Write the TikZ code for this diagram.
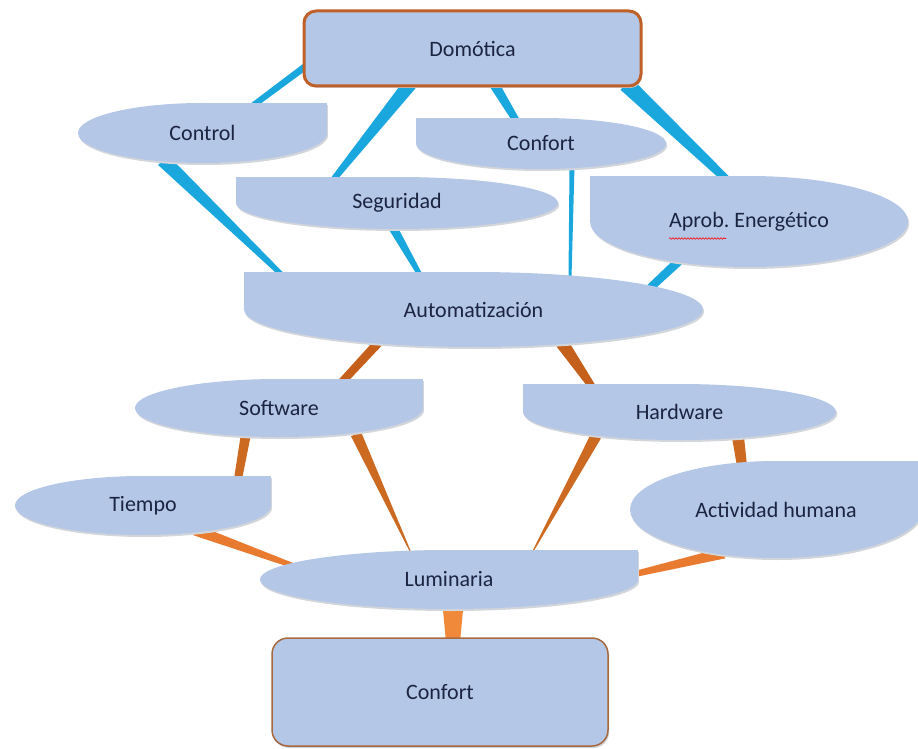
\documentclass[tikz,border=0pt]{standalone}
\usepackage{fontspec}
\setmainfont{Carlito}
\frenchspacing
\usetikzlibrary{calc,shadows,decorations.pathmorphing}

\definecolor{capfill}{HTML}{B4C7E7}
\definecolor{shadowc}{HTML}{D2D5DA}
\definecolor{txtc}{HTML}{1B2440}
\definecolor{bluec}{HTML}{1AA7DD}
\definecolor{orgdark}{HTML}{C4601C}
\definecolor{orgmid}{HTML}{CC6A22}
\definecolor{orglight}{HTML}{E97B30}
\definecolor{orgbright}{HTML}{F08A3A}
\definecolor{domb}{HTML}{BE6028}
\definecolor{confb}{HTML}{A8693E}

\pgfdeclarelayer{bg}
\pgfsetlayers{bg,main}

\tikzset{
  lbl/.style={text=txtc, font=\fontsize{22}{26}\selectfont, inner sep=0pt},
  boxn/.style={lbl, fill=capfill, drop shadow={shadow xshift=1.2pt, shadow yshift=-2pt, fill=shadowc, opacity=1}},
  linkb/.style={fill=bluec},
}

% ellipse with one upper quadrant squared off:
% name, x1, y1, x2, y2, x of the square side, text
\newcommand\capsule[7]{%
  \pgfmathsetmacro\cx{(#2+#4)/2}%
  \pgfmathsetmacro\cy{(#3+#5)/2}%
  \pgfmathsetmacro\rx{(#4-#2)/2}%
  \pgfmathsetmacro\ry{(#5-#3)/2}%
  \begin{scope}[shift={(1.2,2)}]
    \fill[shadowc] (\cx,\cy) ellipse [x radius=\rx, y radius=\ry];
    \fill[shadowc] (\cx,#3) rectangle (#6,\cy);
  \end{scope}
  \fill[capfill] (\cx,\cy) ellipse [x radius=\rx, y radius=\ry];
  \fill[capfill] (\cx,#3) rectangle (#6,\cy);
  \node[lbl, minimum width={(#4-#2)*1pt}, minimum height={(#5-#3)*1pt}] (#1) at (\cx,\cy) {#7};
}

% tapered link: node A, offset A, node B, offset B, half width at A, half width at B, style
\newcommand\taper[7]{%
  \coordinate (tA) at ($(#1)+(#2)$);
  \coordinate (tB) at ($(#3)+(#4)$);
  \fill[#7] ($(tA)!#5!90:(tB)$) -- ($(tA)!#5!-90:(tB)$) -- ($(tB)!#6!90:(tA)$) -- ($(tB)!#6!-90:(tA)$) -- cycle;
}

\begin{document}
\begin{tikzpicture}[x=1pt,y=-1pt]
\path[use as bounding box] (0,0) rectangle (918,749);
\clip (0,0) rectangle (918,749);

% top and bottom boxes
\node[boxn, draw=domb, line width=3pt, rounded corners=12pt,
      minimum width=337pt, minimum height=75pt] (dom) at (472.5,48.5) {Domótica};
\node[boxn, draw=confb, line width=1.5pt, rounded corners=16pt,
      minimum width=336pt, minimum height=108pt] (conf2) at (440,692) {Confort};

% concept shapes
\capsule{ctrl}{78}{103}{327}{163}{327}{Control}
\capsule{conf}{416}{118}{666}{169}{416}{Confort}
\capsule{seg}{236}{177}{558}{229}{236}{Seguridad}
\capsule{aprob}{590}{176}{908}{267}{590}{Aprob. Energético}
\capsule{auto}{244}{272}{703}{347}{244}{Automatización}
\capsule{soft}{135}{379}{423}{437}{423}{Software}
\capsule{hard}{523}{384}{836}{440}{523}{Hardware}
\capsule{tiem}{15}{476}{271}{535}{271}{Tiempo}
\capsule{act}{630}{461}{922}{558}{922}{Actividad humana}
\capsule{lum}{260}{550}{638}{609}{638}{Luminaria}

% spell-check underline
\draw[red, line width=0.6pt, decorate, decoration={snake, segment length=3pt, amplitude=0.8pt}]
  ($(aprob)+(-80,17)$) -- ($(aprob)+(-23,17)$);

\begin{pgfonlayer}{bg}
  % upper links
  \taper{dom}{-162.5,14.5}{ctrl}{48.5,-26}{3.5pt}{3pt}{linkb}
  \taper{dom}{-62.5,35.5}{seg}{-64,-23}{7pt}{3pt}{linkb}
  \taper{dom}{21.5,35.5}{conf}{-24,-21.5}{5pt}{3.5pt}{linkb}
  \taper{dom}{153.5,35.5}{aprob}{-22,-41.5}{8pt}{4pt}{linkb}
  \taper{ctrl}{-39.5,27}{auto}{-191.5,-34.5}{7pt}{2.5pt}{linkb}
  \taper{seg}{-5,23}{auto}{-53.5,-34.5}{4.5pt}{2.5pt}{linkb}
  \taper{conf}{31,22.5}{auto}{96.5,-31.5}{2.5pt}{1.5pt}{linkb}
  \taper{aprob}{-69,38.5}{auto}{176.5,-21.5}{4.5pt}{4pt}{linkb}
  % lower links
  \taper{auto}{-95.5,33.5}{soft}{62,-25}{4.5pt}{4pt}{fill=orgdark}
  \taper{auto}{88.5,33.5}{hard}{-86.5,-24}{6.5pt}{3.5pt}{fill=orgdark}
  \taper{soft}{-33,26}{tiem}{95,-26.5}{5pt}{4pt}{fill=orgmid}
  \taper{soft}{77,26}{lum}{-38,-26.5}{5.5pt}{0.5pt}{fill=orgmid}
  \taper{hard}{-83.5,24}{lum}{83,-26.5}{5.5pt}{0.5pt}{fill=orgmid}
  \taper{hard}{58.5,25}{act}{-34,-43.5}{6pt}{5pt}{fill=orgmid}
  \taper{tiem}{52,24.5}{lum}{-155,-13.5}{5.5pt}{2.5pt}{fill=orglight}
  \taper{act}{-52,43.5}{lum}{186,-5.5}{5.5pt}{3pt}{fill=orglight}
  \taper{lum}{4,25.5}{conf2}{13,-50}{10.5pt}{7pt}{fill=orgbright}
\end{pgfonlayer}
\end{tikzpicture}
\end{document}
